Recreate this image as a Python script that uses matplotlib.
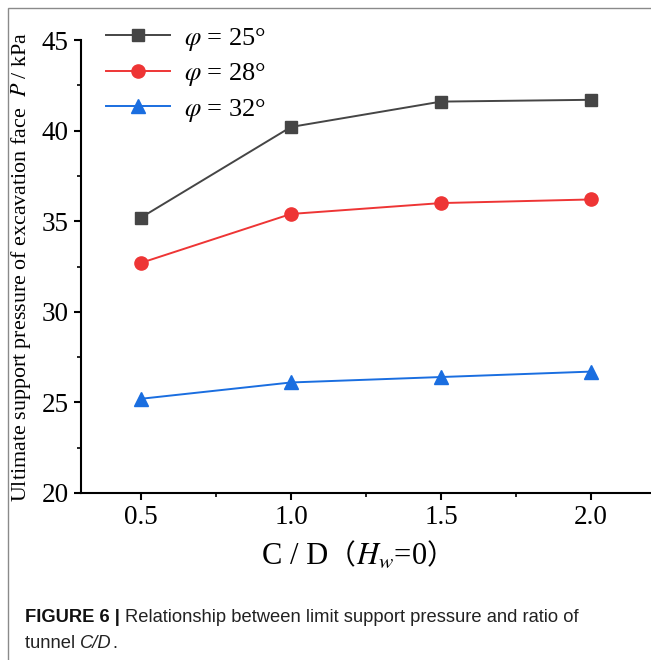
import matplotlib
matplotlib.use("Agg")
import matplotlib.pyplot as plt
from matplotlib.patches import Rectangle
from matplotlib.ticker import MultipleLocator

# ---- data ----
cd_ratio = [0.5, 1.0, 1.5, 2.0]
p_phi25 = [35.2, 40.2, 41.6, 41.7]
p_phi28 = [32.7, 35.4, 36.0, 36.2]
p_phi32 = [25.2, 26.1, 26.4, 26.7]
labels = [r'$\varphi$ = 25°', r'$\varphi$ = 28°', r'$\varphi$ = 32°']
x_ticks = [0.5, 1.0, 1.5, 2.0]
y_ticks = [20, 25, 30, 35, 40, 45]

plt.rcParams['mathtext.fontset'] = 'stix'
serif = ['Liberation Serif', 'Noto Sans CJK SC', 'DejaVu Serif']
plt.rcParams['font.family'] = serif

W, H = 651, 660
fig = plt.figure(figsize=(W / 100, H / 100), dpi=100)
ax = fig.add_axes([81 / W, 1 - 493 / H, 1 - 81 / W, (493 - 40) / H])

ax.plot(cd_ratio, p_phi25, color='#454545', lw=1.4, marker='s', ms=8.5, label=labels[0])
ax.plot(cd_ratio, p_phi28, color='#ee3535', lw=1.4, marker='o', ms=9.5, label=labels[1])
ax.plot(cd_ratio, p_phi32, color='#1a6ee0', lw=1.4, marker='^', ms=9.5, label=labels[2])

ax.set_xlim(0.3, 2.2)
ax.set_ylim(20, 45)
ax.set_xticks(x_ticks)
ax.set_xticklabels([f'{v:.1f}' for v in x_ticks])
ax.set_yticks(y_ticks)
ax.xaxis.set_minor_locator(MultipleLocator(0.25))
ax.yaxis.set_minor_locator(MultipleLocator(2.5))
for s in ['top', 'right']:
    ax.spines[s].set_visible(False)
for s in ['left', 'bottom']:
    ax.spines[s].set_linewidth(1.5)
ax.tick_params(which='major', direction='out', length=5, width=1.5, labelsize=19.5, pad=4)
ax.tick_params(which='minor', direction='out', length=3, width=1.2)

ax.set_ylabel('Ultimate support pressure of excavation face  $P$ / kPa', fontsize=15.8, labelpad=6)

leg = ax.legend(loc='upper left', bbox_to_anchor=(0.025, 1.055), frameon=False,
                fontsize=19, handlelength=2.45, labelspacing=0.32, handletextpad=0.5,
                borderaxespad=0)

# figure border (top and left visible)
fig.patches.append(Rectangle((8 / W, -0.01), 1.0, 1 - 8 / H + 0.01, transform=fig.transFigure,
                             fill=False, edgecolor='#8a8a8a', lw=1.0))

fig.canvas.draw()
r = fig.canvas.get_renderer()

# x label composed of pieces (full-width parentheses need a CJK font)
xl_y = 1 - 564 / H
pieces = [('C / D', serif, 22),
          ('（', ['Noto Sans CJK SC'], 20),
          ('$H_w$=0', serif, 22),
          ('）', ['Noto Sans CJK SC'], 20)]
texts = []
for s, fam, fs in pieces:
    t = fig.text(0, xl_y, s, fontsize=fs, family=fam, va='baseline', ha='left')
    texts.append(t)
widths = [t.get_window_extent(r).width for t in texts]
total = sum(widths)
xc = 358
xpos = xc - total / 2
for t, w in zip(texts, widths):
    t.set_x(xpos / W)
    xpos += w

# caption
sans = ['Liberation Sans', 'DejaVu Sans']
y1 = 1 - 622 / H
y2 = 1 - 648 / H
x0 = 25 / W
cfs = 13.2
t1 = fig.text(x0, y1, 'FIGURE 6 | ', fontsize=cfs, fontweight='bold', family=sans, va='baseline', color='#111111')
bb = t1.get_window_extent(r)
fig.text(bb.x1 / W, y1, 'Relationship between limit support pressure and ratio of',
         fontsize=cfs, family=sans, va='baseline', color='#222222')
t3 = fig.text(x0, y2, 'tunnel ', fontsize=cfs, family=sans, va='baseline', color='#222222')
bb = t3.get_window_extent(r)
t4 = fig.text(bb.x1 / W, y2, 'C/D', fontsize=cfs, family=sans, style='italic', va='baseline', color='#222222')
bb = t4.get_window_extent(r)
fig.text(bb.x1 / W, y2, '.', fontsize=cfs, family=sans, va='baseline', color='#222222')

fig.savefig('out.png', dpi=100)
